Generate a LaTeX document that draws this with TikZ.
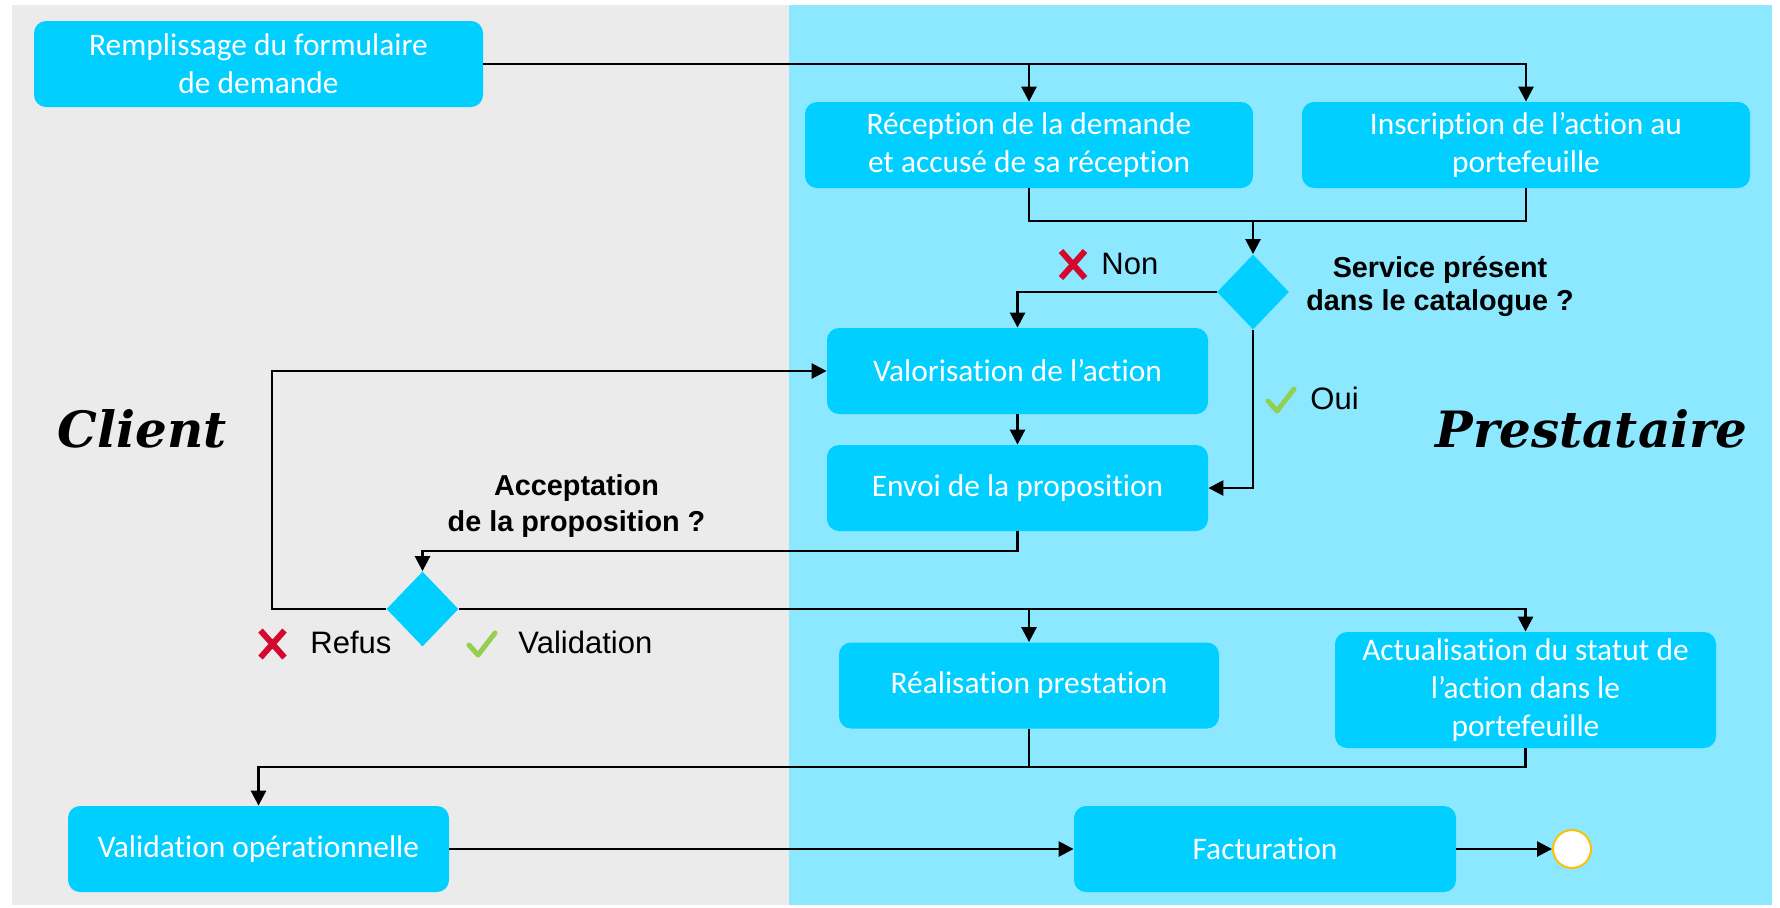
\documentclass[tikz,border=0pt]{standalone}
\usepackage{fontspec}
\newfontfamily\calibri[Ligatures=NoCommon]{Carlito}
\newfontfamily\arialf{Liberation Sans}
\newfontfamily\lanefont{DejaVu Serif}
\usetikzlibrary{shapes.geometric,arrows.meta}
\definecolor{bggray}{HTML}{EBEBEB}
\definecolor{bgblue}{HTML}{8CE8FF}
\definecolor{boxcyan}{HTML}{00CFFF}
\definecolor{xred}{HTML}{D4082E}
\definecolor{okgreen}{HTML}{92D050}
\definecolor{endgold}{HTML}{FFC000}
\begin{document}
\begin{tikzpicture}[x=0.5pt,y=-0.5pt,
  stepbox/.style={draw=none, fill=boxcyan, rounded corners=6pt, text=white,
    font=\calibri\fontsize{15.7}{19}\selectfont, align=center,
    minimum height=43pt, inner sep=0pt},
  decision/.style={diamond, fill=boxcyan, minimum width=36pt, minimum height=37.5pt, inner sep=0pt},
  flow/.style={line width=1.3pt, draw=black},
  arr/.style={flow, -{Triangle[length=7.5pt,width=7.5pt]}},
  lbl/.style={font=\arialf\fontsize{15.5}{18}\selectfont, inner sep=0pt, anchor=west},
  qlbl/.style={font=\arialf\bfseries\fontsize{14.4}{16.5}\selectfont, align=center, inner sep=0pt},
  lane/.style={font=\lanefont\fontsize{25}{28}\selectfont\bfseries\itshape, inner sep=0pt, anchor=base},
  pics/xmark/.style={code={\draw[xred, line width=3pt] (-12,-13) -- (12,14) (-12,14) -- (12,-13);}},
  pics/okmark/.style={code={\draw[okgreen, line width=2.5pt, line cap=round, line join=round] (-13,1) -- (-4,11) -- (13,-11);}}
]
\useasboundingbox (0,0) rectangle (1780,907);
\fill[bggray] (11.5,5) rectangle (789,905);
\fill[bgblue] (789,5) rectangle (1772,905);

% lane titles
\node[lane] (cl) at (142,447) {Client};
\node[lane] (pr) at (1591.5,447) {Prestataire};

% boxes
\node[stepbox, minimum width=224.5pt] (rem) at (258.5,64) {Remplissage du formulaire\\de demande};
\node[stepbox, minimum width=224pt] (rec) at (1029,145) {Réception de la demande\\et accusé de sa réception};
\node[stepbox, minimum width=224pt] (ins) at (1526,145) {Inscription de l’action au\\portefeuille};
\node[decision] (d1) at (1253,292) {};
\node[stepbox, minimum width=190.5pt] (val) at (1017.5,371) {Valorisation de l’action};
\node[stepbox, minimum width=190.5pt] (env) at (1017.5,488) {Envoi de la proposition};
\node[decision] (d2) at (422.5,609) {};
\node[stepbox, minimum width=190pt] (rea) at (1029,685.5) {Réalisation prestation};
\node[stepbox, minimum width=190.5pt, minimum height=58pt] (act) at (1525.5,690) {Actualisation du statut de\\l’action dans le\\portefeuille};
\node[stepbox, minimum width=190.5pt] (vop) at (258.5,849) {Validation opérationnelle};
\node[stepbox, minimum width=191pt] (fac) at (1265,849) {Facturation};
\node[circle, fill=white, draw=endgold, line width=1pt, minimum size=19pt, inner sep=0pt] (end) at (1572,849) {};

% connectors
\draw[arr] (rem.east) -| (rec.north);
\draw[arr] (rem.east) -| (ins.north);
\coordinate (j1) at (1253,221);
\draw[flow] (rec.south) |- (j1);
\draw[flow] (ins.south) |- (j1);
\draw[arr] (j1) -- (d1.north);
\draw[arr] (d1.west) -| (val.north);
\draw[arr] (d1.south) |- (env.east);
\draw[arr] (val.south) -- (env.north);
\coordinate (j2) at (1017.5,551);
\draw[arr] (env.south) -- (j2) -| (d2.north);
\coordinate (j3) at (272,609);
\draw[arr] (d2.west) -- (j3) |- (val.west);
\draw[arr] (d2.east) -| (rea.north);
\draw[arr] (d2.east) -| (act.north);
\coordinate (j4) at (1029,767);
\draw[flow] (act.south) |- (j4);
\draw[flow] (rea.south) -- (j4);
\draw[arr] (j4) -| (vop.north);
\draw[arr] (vop.east) -- (fac.west);
\draw[arr] (fac.east) -- (end.west);

% labels
\node[qlbl] (q1) at (1440,286) {Service présent\\dans le catalogue ?};
\node[qlbl, font=\arialf\bfseries\fontsize{14.4}{18}\selectfont] (q2) at (576.5,506) {Acceptation\\de la proposition ?};
\pic at (1073,264) {xmark};
\node[lbl] (non) at (1101,264) {Non};
\pic at (1281,400) {okmark};
\node[lbl] (oui) at (1310,398) {Oui};
\pic at (272.5,643.5) {xmark};
\node[lbl] (ref) at (310,642) {Refus};
\pic at (482,644) {okmark};
\node[lbl] (vali) at (518,642.5) {Validation};
\end{tikzpicture}
\end{document}
